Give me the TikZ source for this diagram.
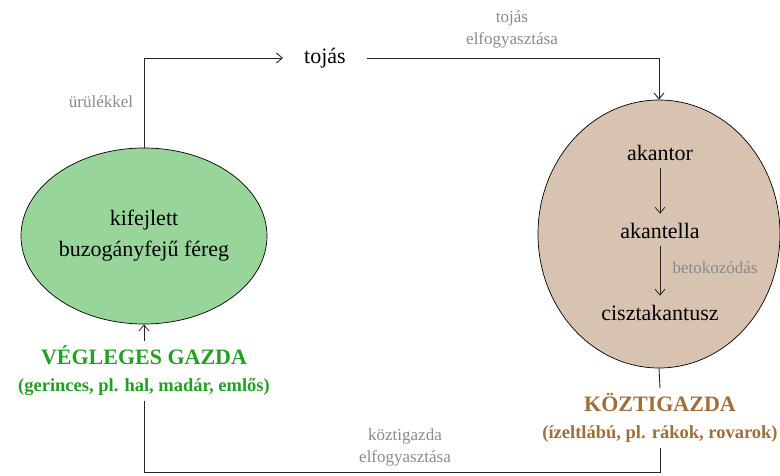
\documentclass[tikz,border=0pt]{standalone}
\usepackage{fontspec}
\setmainfont{Liberation Serif}
\usetikzlibrary{arrows.meta,positioning,shapes.geometric}
\definecolor{wormgreen}{HTML}{98D59A}
\definecolor{hostgreen}{HTML}{22A022}
\definecolor{crusttan}{HTML}{D7C3AF}
\definecolor{hostbrown}{HTML}{A06E38}
\definecolor{notegray}{HTML}{8A8A8A}

\begin{document}
\begin{tikzpicture}[
        x=1pt, y=1pt,
        every node/.style={align=center, font=\rmfamily\fontsize{22}{31}\selectfont},
        host/.style={draw, ellipse, inner sep=0pt, line width=0.7pt},
        note/.style={text=notegray, font=\rmfamily\fontsize{17}{22}\selectfont},
        hosttitle/.style={font=\rmfamily\bfseries\fontsize{22}{27}\selectfont, inner sep=5pt},
        arrow/.style={-{Straight Barb[length=6pt,width=10pt]}, line width=0.9pt, draw=black!85},
        link/.style={line width=0.9pt, draw=black!85}
    ]
        \useasboundingbox (0,0) rectangle (780,475);
        \node[host, fill=wormgreen, minimum width=246pt, minimum height=176pt] (adult) at (144,239) {kifejlett\\buzogányfejű féreg};
        \node[host, fill=crusttan, minimum width=242pt, minimum height=268pt] (crust) at (659,241) {};
        \node[inner xsep=21pt] (egg) at (325,417) {tojás};
        \node[note] (feces) at (101,373) {ürülékkel};
        \node[note] (eategg) at (512,446) {tojás\\elfogyasztása};
        \node (acanthor) at (660,322) {akantor};
        \node (acanthella) at (660,244) {akantella};
        \node (cyst) at (660,162) {cisztakantusz};
        \node[note] (encyst) at (715,207) {betokozódás};
        \node[hosttitle, text=hostbrown] (inter) at (660,57) {KÖZTIGAZDA\\{\fontsize{18.5}{27}\selectfont(ízeltlábú, pl. rákok, rovarok)}};
        \node[hosttitle, text=hostgreen] (final) at (144,104) {VÉGLEGES GAZDA\\{\fontsize{18.5}{27}\selectfont(gerinces, pl. hal, madár, emlős)}};
        \node[note] (eatinter) at (405,28) {köztigazda\\elfogyasztása};
        \coordinate (corner) at (660,3);
        \draw[arrow] (adult.north) |- (egg.west);
        \draw[arrow] (egg.east) -| (crust.north);
        \draw[arrow, line width=0.8pt, shorten <=4pt, shorten >=6pt] (acanthor) -- (acanthella);
        \draw[arrow, line width=0.8pt, shorten <=4pt, shorten >=6pt] (acanthella) -- (cyst);
        \draw[link] (crust.south) -- (inter.north);
        \draw[link] (inter.south) -- (corner) -| (final.south);
        \draw[arrow, line width=0.8pt] (final.north) -- (adult.south);
    \end{tikzpicture}
\end{document}
